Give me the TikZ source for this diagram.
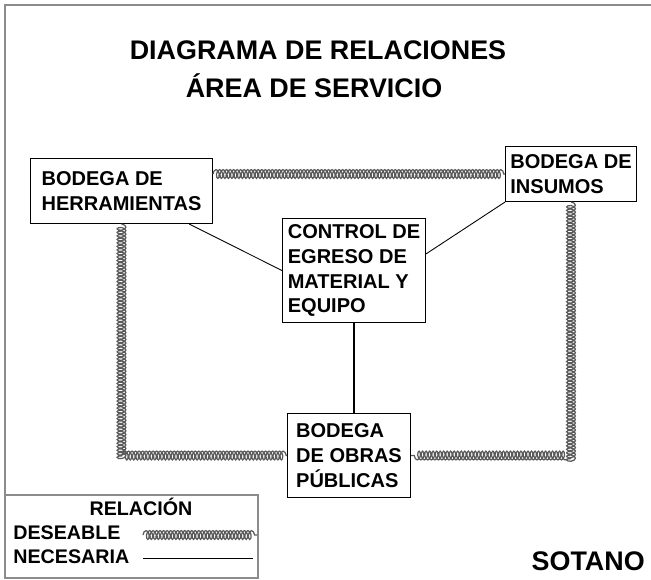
\documentclass[tikz,border=0pt]{standalone}
\usepackage{fontspec}
\setmainfont{Liberation Sans}
\usetikzlibrary{positioning, calc, decorations.pathmorphing}
\definecolor{framegray}{HTML}{8C8C8C}
\definecolor{ropegray}{HTML}{5A5A5A}

\begin{document}
\begin{tikzpicture}[x=0.02cm, y=-0.02cm,
    room/.style={draw, line width=0.6pt, anchor=north west, align=left, inner sep=0pt, font=\fontsize{11.4}{14.2}\selectfont\bfseries},
    heading/.style={anchor=base, inner sep=0pt, font=\fontsize{15.3}{18}\selectfont\bfseries},
    legendtxt/.style={anchor=base west, inner sep=0pt, font=\fontsize{11.2}{14}\selectfont\bfseries},
    deseable/.style={draw=ropegray, line width=0.7pt, decorate, decoration={coil, aspect=0.5, segment length=2pt, amplitude=2.5pt}},
    necesaria/.style={draw, line width=0.5pt}]

  \useasboundingbox (0,0) rectangle (651,579);

  % Frame
  \draw[framegray, line width=0.8pt] (651,5) -| (5,495);
  \draw[framegray, line width=0.8pt] (5,495) rectangle (258,578);

  % Titles
  \node[heading] (title) at (318,59) {DIAGRAMA DE RELACIONES};
  \node[heading] (subtitle) at (314,97) {ÁREA DE SERVICIO};

  % Areas
  \node[room, minimum width=3.64cm, minimum height=1.30cm] (herr) at (30,158) {BODEGA DE\\HERRAMIENTAS};
  \node[room, minimum width=2.62cm, minimum height=1.10cm] (ins) at (505,146) {BODEGA DE\\INSUMOS};
  \node[room, minimum width=2.86cm, minimum height=2.08cm] (ctrl) at (282,218) {CONTROL DE\\EGRESO DE\\MATERIAL Y\\EQUIPO};
  \node[room, minimum width=2.46cm, minimum height=1.68cm] (obras) at (287,413) {BODEGA\\DE OBRAS\\PÚBLICAS};

  % Desirable relations
  \draw[deseable] (herr.east |- ins.west) -- (ins.west);
  \draw[deseable] (herr.south) |- (obras.west);
  \draw[deseable] (ins.south) |- (obras.east);

  % Necessary relations
  \draw[necesaria] (herr.-26) -- (ctrl.west);
  \draw[necesaria] (ctrl.13) -- (ins.south west);
  \draw[necesaria, line width=0.8pt] (ctrl.south) -- (ctrl.south |- obras.north);

  % Legend
  \node[heading, font=\fontsize{11.2}{14}\selectfont\bfseries] (rel) at (141,515) {RELACIÓN};
  \node[legendtxt] (des) at (13,539) {DESEABLE};
  \node[legendtxt] (nec) at (13,563) {NECESARIA};
  \coordinate (des-a) at (143,535);
  \coordinate (des-b) at (257,535);
  \coordinate (nec-a) at (143,558);
  \coordinate (nec-b) at (253,558);
  \draw[deseable] (des-a) -- (des-b);
  \draw[necesaria] (nec-a) -- (nec-b);

  \node[heading, anchor=base east] (sotano) at (645,570) {SOTANO};
\end{tikzpicture}
\end{document}
